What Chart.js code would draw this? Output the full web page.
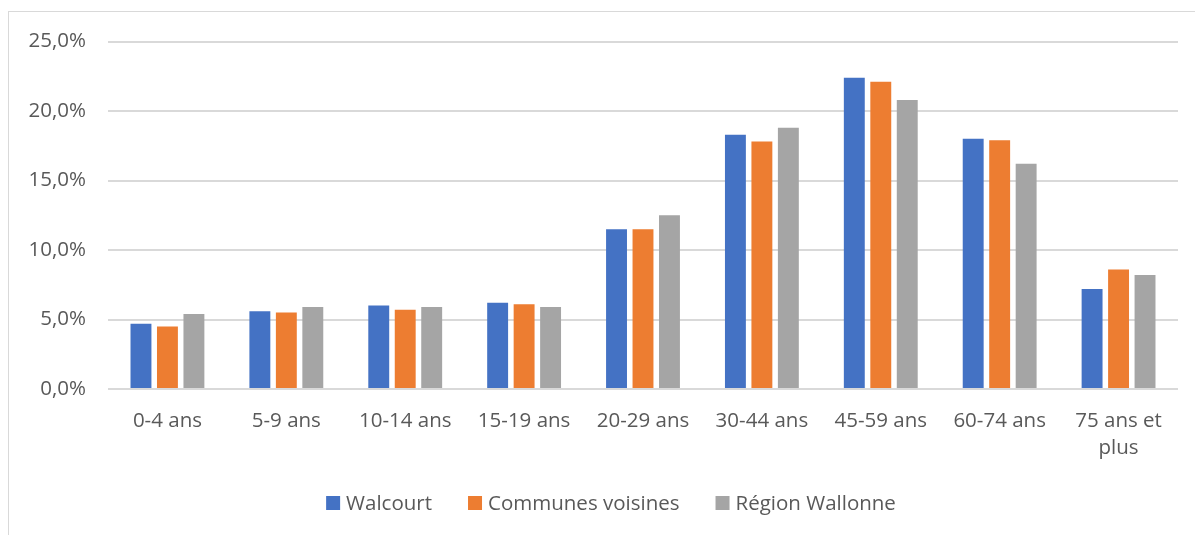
<!DOCTYPE html>
<html>
<head>
<meta charset="utf-8">
<script src="https://cdn.jsdelivr.net/npm/chart.js@4.4.1/dist/chart.umd.min.js"></script>
<style>
  html, body { margin: 0; padding: 0; background: #fff; }
  #wrap { position: relative; width: 1195px; height: 535px; overflow: hidden; }
  #frame { position: absolute; left: 8px; top: 11px; width: 1300px; height: 600px; border: 1px solid #D9D9D9; box-sizing: border-box; }
  canvas { position: absolute; left: 0; top: 0; }
</style>
</head>
<body>
<div id="wrap">
  <div id="frame"></div>
  <canvas id="c" width="1195" height="535"></canvas>
</div>
<script>
const categories = ["0-4 ans", "5-9 ans", "10-14 ans", "15-19 ans", "20-29 ans", "30-44 ans", "45-59 ans", "60-74 ans", ["75 ans et", "plus"]];
const walcourt = [4.7, 5.6, 6.0, 6.2, 11.5, 18.3, 22.4, 18.0, 7.2];
const communesVoisines = [4.5, 5.5, 5.7, 6.1, 11.5, 17.8, 22.1, 17.9, 8.6];
const regionWallonne = [5.4, 5.9, 5.9, 5.9, 12.5, 18.8, 20.8, 16.2, 8.2];
const seriesNames = ["Walcourt", "Communes voisines", "Région Wallonne"];
const seriesColors = ["#4472C4", "#ED7D31", "#A5A5A5"];
const yTicks = [0, 5, 10, 15, 20, 25];

const FONT_FAMILY = "'Open Sans', sans-serif";
const FONT_SIZE = 20.5;
const TEXT = "#595959";

// Custom legend drawn on the canvas (Excel-like spacing)
const excelLegend = {
  id: "excelLegend",
  afterDraw(chart) {
    const ctx = chart.ctx;
    const box = 14, boxGap = 6, itemGap = 36;
    ctx.save();
    ctx.font = FONT_SIZE + "px " + FONT_FAMILY;
    ctx.textBaseline = "middle";
    ctx.textAlign = "left";
    const items = chart.data.datasets.map(d => ({ text: d.label, color: d.backgroundColor, w: ctx.measureText(d.label).width }));
    const total = items.reduce((a, it) => a + box + boxGap + it.w, 0) + itemGap * (items.length - 1);
    let x = 611 - total / 2;
    const cy = 503;
    items.forEach(it => {
      ctx.fillStyle = it.color;
      ctx.fillRect(x, cy - box / 2, box, box);
      x += box + boxGap;
      ctx.fillStyle = TEXT;
      ctx.fillText(it.text, x, cy + 1);
      x += it.w + itemGap;
    });
    ctx.restore();
  }
};

new Chart(document.getElementById("c"), {
  type: "bar",
  data: {
    labels: categories,
    datasets: seriesNames.map((name, i) => ({
      label: name,
      data: [walcourt, communesVoisines, regionWallonne][i],
      backgroundColor: seriesColors[i],
      borderWidth: 0
    }))
  },
  plugins: [excelLegend],
  options: {
    responsive: false,
    animation: false,
    devicePixelRatio: 1,
    datasets: { bar: { categoryPercentage: 0.668, barPercentage: 0.79 } },
    layout: { padding: { top: 41.5, right: 17, left: 0, bottom: 46 } },
    plugins: {
      legend: { display: false },
      tooltip: { enabled: false }
    },
    scales: {
      x: {
        grid: { display: false, drawTicks: false },
        border: { display: false },
        ticks: {
          color: TEXT,
          font: { family: FONT_FAMILY, size: FONT_SIZE, lineHeight: 1.35 },
          maxRotation: 0,
          autoSkip: false,
          padding: 18
        },
        afterFit: (s) => { s.height = 100; }
      },
      y: {
        min: 0,
        max: 25,
        grid: { color: "#D9D9D9", lineWidth: 2, drawTicks: false },
        border: { display: false },
        afterBuildTicks: (s) => { s.ticks = yTicks.map(v => ({ value: v })); },
        ticks: {
          color: TEXT,
          font: { family: FONT_FAMILY, size: FONT_SIZE },
          padding: 22,
          callback: (v) => v.toFixed(1).replace(".", ",") + "%"
        },
        afterFit: (s) => { s.width = 108; }
      }
    }
  }
});
</script>
</body>
</html>
